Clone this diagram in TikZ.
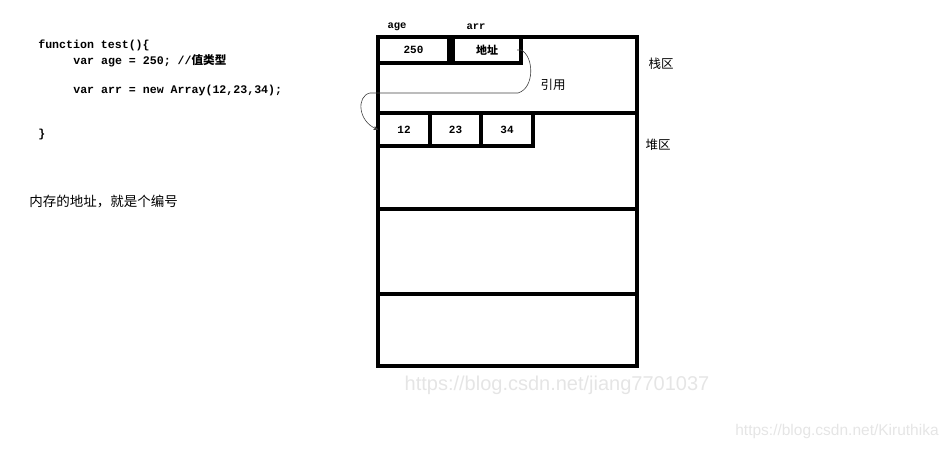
\documentclass[tikz,border=0pt]{standalone}
\usepackage{fontspec}
\newfontfamily\codefont{Liberation Mono}
\newfontfamily\cjk{Noto Sans CJK SC}
\newfontfamily\wmfont{Liberation Sans}
\usetikzlibrary{arrows,positioning}

\begin{document}
\begin{tikzpicture}[x=1pt,y=-1pt,->,>=stealth',semithick,
                    every node/.append style={inner sep=0pt}]
  \tikzstyle{area}=[draw=black,line width=3.2pt,minimum width=259pt,anchor=north west,outer sep=0pt]
  \tikzstyle{cell}=[draw=black,line width=3.2pt,anchor=north west,outer sep=0pt,
                    font=\codefont\bfseries\fontsize{11}{13}\selectfont]
  \tikzstyle{code}=[anchor=west,font=\codefont\bfseries\fontsize{11.6}{13}\selectfont]
  \tikzstyle{zh}=[font=\cjk\fontsize{12.5}{14}\selectfont]
  \tikzstyle{watermark}=[text=black!10,font=\wmfont]

  \useasboundingbox (0,0) rectangle (951,449);

  % code
  \node[code] (l1) at (38,45)  {function test()\{};
  \node[code] (l2) at (73,61)  {var age = 250; //{\cjk 值类型}};
  \node[code] (l3) at (73,91)  {var arr = new Array(12,23,34);};
  \node[code] (l4) at (38,135) {\}};
  \node[zh,anchor=west,font=\cjk\fontsize{13.5}{15}\selectfont] (note) at (29,202) {内存的地址，就是个编号};

  % memory
  \node[area,minimum height=76pt] (stack) at (378,37)  {};
  \node[area,minimum height=96pt] (heap)  at (378,113) {};
  \node[area,minimum height=85pt] (mem3)  at (378,209) {};
  \node[area,minimum height=72pt] (mem4)  at (378,294) {};

  \node[cell,minimum width=71pt,minimum height=26pt] (age) at (378,37) {250};
  \node[cell,minimum width=68pt,minimum height=26pt] (arr) [right=4pt of age] {\cjk 地址};
  \node[code,anchor=center,font=\codefont\bfseries\fontsize{10.5}{12}\selectfont] (agename) at (397,27) {age};
  \node[code,anchor=center,font=\codefont\bfseries\fontsize{10.5}{12}\selectfont] (arrname) at (476,27) {arr};

  \node[cell,minimum width=52pt,minimum height=33pt] (c12) at (378,113) {12};
  \node[cell,minimum width=51pt,minimum height=33pt] (c23) [right=0pt of c12] {23};
  \node[cell,minimum width=52pt,minimum height=33pt] (c34) [right=0pt of c23] {34};

  \node[zh] (ref)   at (553,85)  {引用};
  \node[zh] (stackname) at (661,64)  {栈区};
  \node[zh] (heapname)  at (658,145) {堆区};

  \draw[black!75,line width=0.6pt] ([xshift=-4pt]arr.east) -- (arr.east)
        .. controls (534,56) and (535,88) .. (518,93) -- (370,93)
        .. controls (356,96) and (358,122) .. (c12.west);

  % watermarks
  \node[watermark,font=\wmfont\fontsize{20}{22}\selectfont] (wm1) at (557,385) {https://blog.csdn.net/jiang7701037};
  \node[watermark,font=\wmfont\fontsize{15.5}{17}\selectfont] (wm2) at (837,431) {https://blog.csdn.net/Kiruthika};
\end{tikzpicture}
\end{document}
